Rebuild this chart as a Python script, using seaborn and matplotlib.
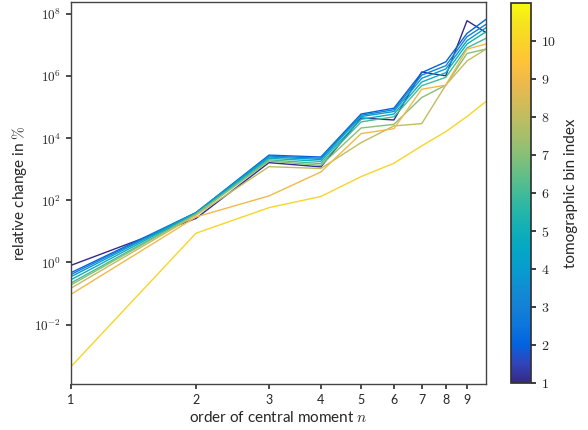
import numpy as np
import pandas as pd
import matplotlib
matplotlib.use("Agg")
import matplotlib.pyplot as plt
import seaborn as sns
from matplotlib.colors import LinearSegmentedColormap, Normalize
from matplotlib.cm import ScalarMappable
from matplotlib.ticker import FixedLocator, FixedFormatter, NullLocator

# ---- data (relative change in %) ----
ordem_n = [1, 2, 3, 4, 5, 6, 7, 8, 9, 10]
bins = [1, 2, 3, 4, 5, 6, 7, 8, 9, 10]

bin_1 = [0.81, 26, 1620, 1180, 4.4e4, 3.8e4, 1.32e6, 1.0e6, 5.9e7, 2.45e7]
bin_2 = [0.47, 40, 2820, 2450, 5.9e4, 9.1e4, 1.26e6, 2.8e6, 2.3e7, 6.5e7]
bin_3 = [0.41, 40, 2630, 2240, 5.4e4, 8.1e4, 1.05e6, 2.1e6, 1.8e7, 4.5e7]
bin_4 = [0.35, 39, 2450, 2040, 4.9e4, 7.1e4, 8.3e5, 1.66e6, 1.35e7, 3.5e7]
bin_5 = [0.28, 38, 2240, 1780, 4.0e4, 5.9e4, 6.3e5, 1.26e6, 1.05e7, 2.6e7]
bin_6 = [0.22, 36, 2000, 1510, 3.3e4, 4.8e4, 4.8e5, 8.9e5, 7.9e6, 1.6e7]
bin_7 = [0.19, 35, 1820, 1320, 2.1e4, 2.75e4, 2.0e5, 5.0e5, 5.2e6, 7.2e6]
bin_8 = [0.15, 33, 1200, 1050, 7.1e3, 2.45e4, 2.9e4, 5.0e5, 3.0e6, 7.2e6]
bin_9 = [0.095, 29, 138, 810, 1.38e4, 2.0e4, 3.7e5, 5.0e5, 7.2e6, 1.05e7]
bin_10 = [4.5e-4, 8.7, 58, 132, 575, 1550, 5600, 1.6e4, 4.9e4, 1.5e5]

valores = [bin_1, bin_2, bin_3, bin_4, bin_5, bin_6, bin_7, bin_8, bin_9, bin_10]

xticks = [1, 2, 3, 4, 5, 6, 7, 8, 9]
yticks = [1e-2, 1e0, 1e2, 1e4, 1e6, 1e8]
ytick_labels = ["$10^{-2}$", "$10^{0}$", "$10^{2}$", "$10^{4}$", "$10^{6}$", "$10^{8}$"]
cbar_ticks = [1, 2, 3, 4, 5, 6, 7, 8, 9, 10]

# parula-like colormap
parula_pts = [
    (0.2081, 0.1663, 0.5292), (0.1959, 0.2645, 0.7279), (0.0117, 0.3875, 0.8820),
    (0.0498, 0.4586, 0.8641), (0.0779, 0.5040, 0.8384), (0.0641, 0.5570, 0.8240),
    (0.0265, 0.6137, 0.8135), (0.0228, 0.6535, 0.7768), (0.0590, 0.6838, 0.7254),
    (0.1453, 0.7098, 0.6646), (0.2586, 0.7317, 0.5954), (0.3953, 0.7459, 0.5244),
    (0.5300, 0.7491, 0.4661), (0.6473, 0.7456, 0.4188), (0.7525, 0.7384, 0.3768),
    (0.8507, 0.7299, 0.3360), (0.9450, 0.7261, 0.2886), (0.9990, 0.7653, 0.2164),
    (0.9789, 0.8271, 0.1633), (0.9589, 0.8949, 0.1132), (0.9763, 0.9831, 0.0538),
]
parula = LinearSegmentedColormap.from_list("parula", parula_pts)

df = pd.DataFrame({
    "n": np.tile(ordem_n, len(bins)),
    "change": np.concatenate(valores),
    "bin": np.repeat(bins, len(ordem_n)),
})

sns.set_theme(style="ticks")
plt.rcParams["font.family"] = ["Lato", "DejaVu Sans"]
plt.rcParams["mathtext.fontset"] = "cm"

fig = plt.figure(figsize=(5.88, 4.30), dpi=100)
ax = fig.add_axes([71 / 588, 46 / 430, 415 / 588, 382 / 430])
cax = fig.add_axes([511 / 588, 47 / 430, 20 / 588, 380 / 430])

sns.lineplot(data=df, x="n", y="change", hue="bin", palette=parula,
             hue_norm=(1, 11), legend=False, linewidth=1.0, ax=ax)

ax.set_xscale("log")
ax.set_yscale("log")
ax.set_xlim(1, 10)
ax.xaxis.set_major_locator(FixedLocator(xticks))
ax.xaxis.set_major_formatter(FixedFormatter([str(t) for t in xticks]))
ax.yaxis.set_major_locator(FixedLocator(yticks))
ax.yaxis.set_major_formatter(FixedFormatter(ytick_labels))
ax.xaxis.set_minor_locator(NullLocator())
ax.yaxis.set_minor_locator(NullLocator())
ax.tick_params(axis="x", labelsize=9, direction="out", length=3.5, color="#333333")
ax.tick_params(axis="y", labelsize=9.5, direction="out", length=3.5, color="#333333")
for s in ax.spines.values():
    s.set_color("#444444")
    s.set_linewidth(1.0)

ax.set_xlabel("order of central moment $n$", fontsize=11, labelpad=3)
ax.set_ylabel("relative change in $\\%$", fontsize=11)

sm = ScalarMappable(norm=Normalize(1, 11), cmap=parula)
cb = fig.colorbar(sm, cax=cax, ticks=cbar_ticks)
cb.ax.set_yticklabels([f"${t}$" for t in cbar_ticks])
cb.ax.tick_params(labelsize=10, length=3.5)
cb.outline.set_edgecolor("#333333")
cb.set_label("tomographic bin index", fontsize=11, labelpad=6)

fig.savefig("out.png", dpi=100)
plt.close(fig)
